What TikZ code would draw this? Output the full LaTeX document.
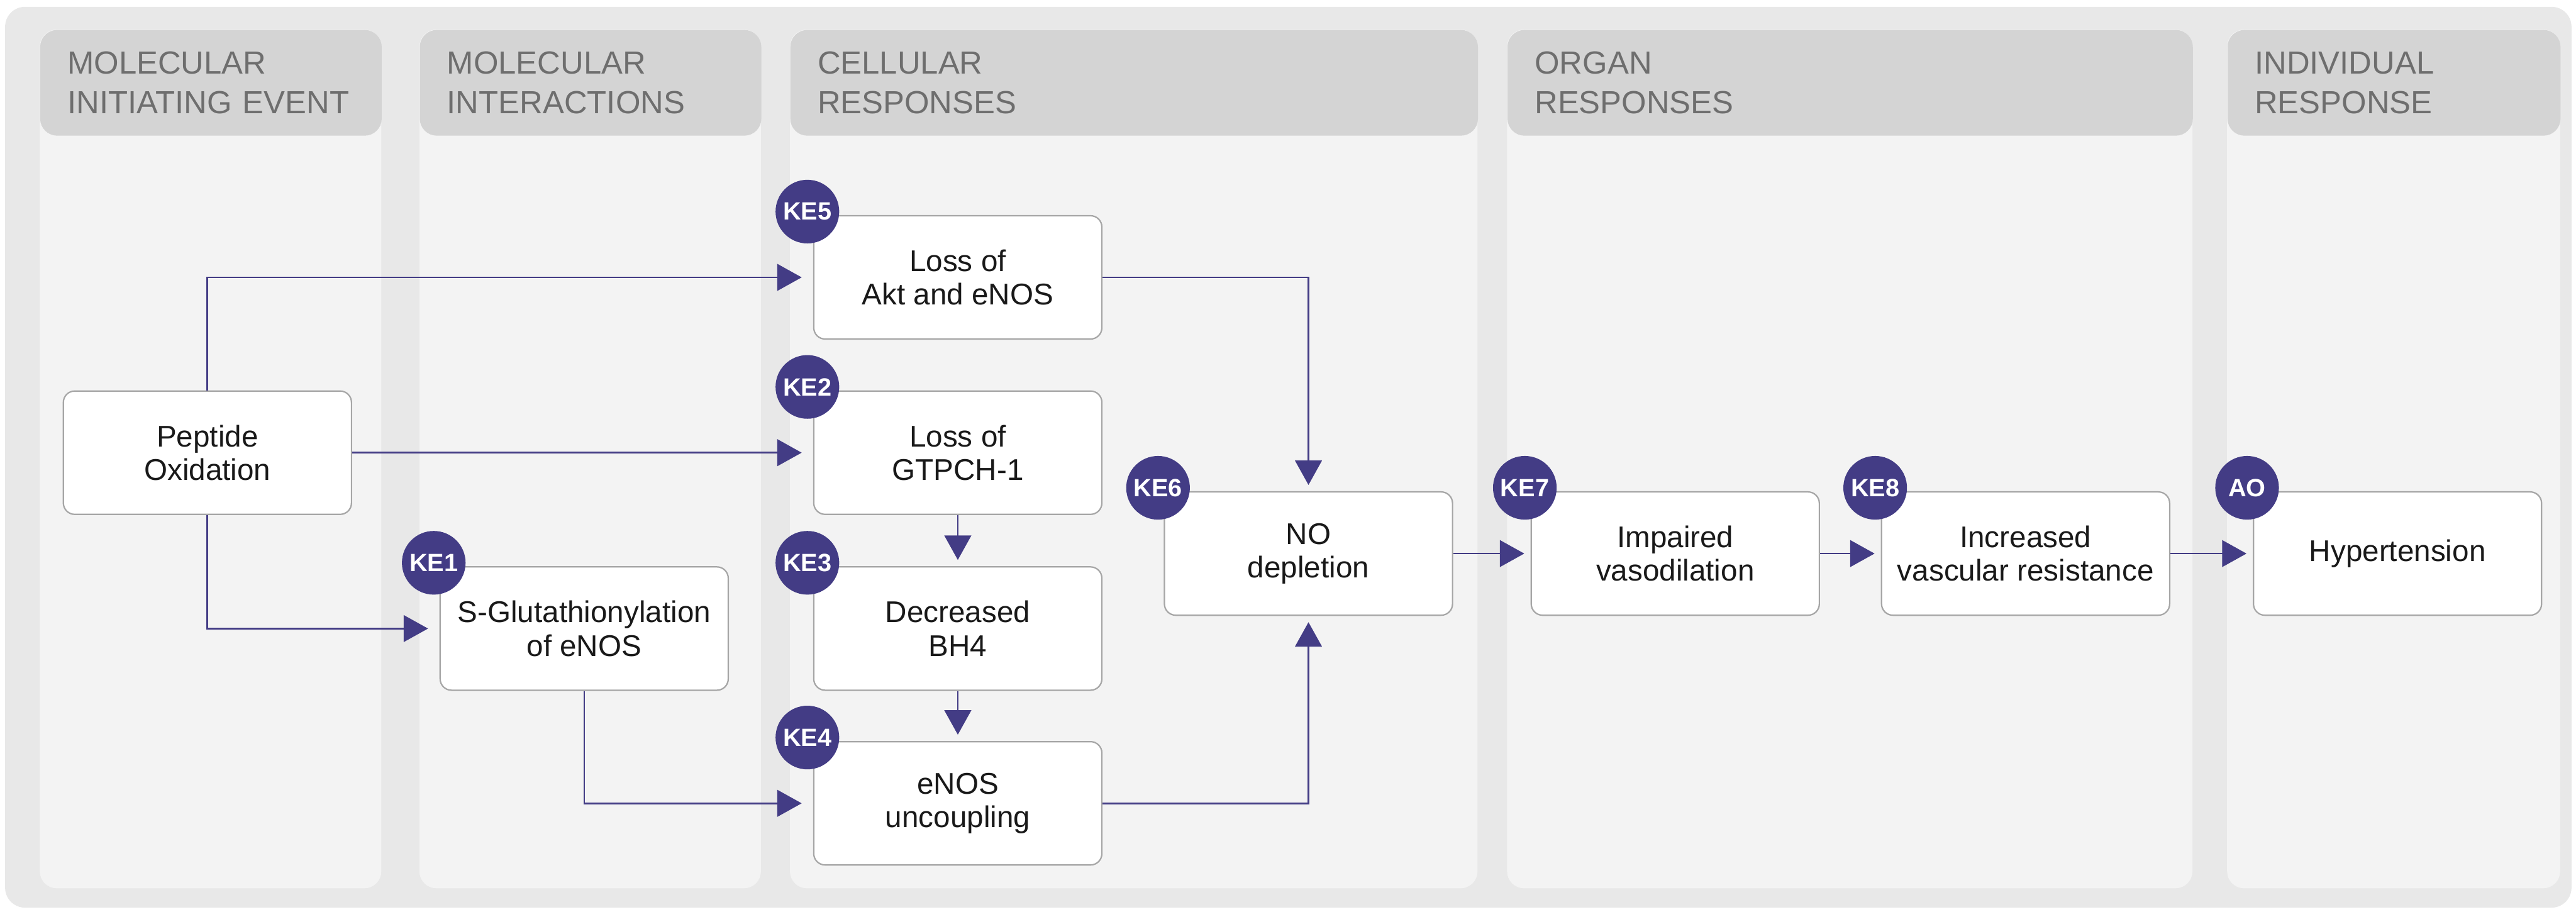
\documentclass[tikz,border=0pt]{standalone}
\usepackage{fontspec}
\setmainfont{Liberation Sans}
\usepackage{xcolor}
\usepackage{tikz}
\usetikzlibrary{arrows.meta,positioning,calc}

\definecolor{outergray}{HTML}{E8E8E8}
\definecolor{colgray}{HTML}{F3F3F3}
\definecolor{headgray}{HTML}{D4D4D4}
\definecolor{headtext}{HTML}{6E6E6E}
\definecolor{kepurple}{HTML}{433C85}
\definecolor{boxline}{HTML}{A6A6A6}

\begin{document}
\begin{tikzpicture}[
    node distance=0.89cm and 1.15cm,
    box/.style={draw=boxline, line width=0.7pt, fill=white, rounded corners=0.2cm, minimum width=5.07cm, minimum height=2.17cm, align=center, text=black!90, font=\fontsize{15}{16.8}\selectfont},
    badge/.style={circle, fill=kepurple, text=white, minimum size=1.12cm, inner sep=0pt, font=\bfseries\fontsize{12.5}{14}\selectfont},
    colhead/.style={fill=headgray, rounded corners=0.3cm, anchor=north west, minimum height=1.86cm, inner xsep=0.48cm, align=left, text=headtext, font=\fontsize{16}{20}\selectfont},
    colbody/.style={fill=colgray, rounded corners=0.3cm},
    arr/.style={-{Triangle[length=0.43cm, width=0.47cm]}, draw=kepurple, line width=0.03cm, shorten >=0.11cm},
  ]

  \useasboundingbox (0,0) rectangle (45.33,-16.04);
  \fill[outergray, rounded corners=0.35cm] (0.09,-0.12) rectangle (45.25,-15.97);

  % Columns
  \fill[colbody] (0.70,-0.52) rectangle (6.71,-15.63);
  \fill[colbody] (7.38,-0.52) rectangle (13.39,-15.63);
  \fill[colbody] (13.90,-0.52) rectangle (26.00,-15.63);
  \fill[colbody] (26.52,-0.52) rectangle (38.58,-15.63);
  \fill[colbody] (39.19,-0.52) rectangle (45.05,-15.63);

  \node[colhead, text width=5.05cm] (hd1) at (0.70,-0.52) {MOLECULAR\\INITIATING EVENT};
  \node[colhead, text width=5.05cm] (hd2) at (7.38,-0.52) {MOLECULAR\\INTERACTIONS};
  \node[colhead, text width=11.14cm] (hd3) at (13.90,-0.52) {CELLULAR\\RESPONSES};
  \node[colhead, text width=11.10cm] (hd4) at (26.52,-0.52) {ORGAN\\RESPONSES};
  \node[colhead, text width=4.90cm] (hd5) at (39.19,-0.52) {INDIVIDUAL\\RESPONSE};

  % Key event boxes
  \node[box] (pep) at (3.65,-7.965) {Peptide\\Oxidation};
  \node[box, right=8.11cm of pep] (ke2) {Loss of\\GTPCH-1};
  \node[box, above=of ke2] (ke5) {Loss of\\Akt and eNOS};
  \node[box, below=0.9cm of ke2] (ke3) {Decreased\\BH4};
  \node[box, below=0.88cm of ke3] (ke4) {eNOS\\uncoupling};
  \node[box, left=1.48cm of ke3] (ke1) {S-Glutathionylation\\of eNOS};

  \node[box] (ke6) at (23.025,-9.74) {NO\\depletion};
  \node[box, right=1.36cm of ke6] (ke7) {Impaired\\vasodilation};
  \node[box, right=1.07cm of ke7] (ke8) {Increased\\vascular resistance};
  \node[box, right=1.45cm of ke8] (ao) {Hypertension};

  % Arrows
  \draw[arr, shorten >=0.2cm] (pep.north) |- (ke5.west);
  \draw[arr, shorten >=0.2cm] (pep.east) -- (ke2.west);
  \draw[arr, shorten >=0.2cm] (pep.south) |- (ke1.west);
  \draw[arr, shorten >=0.2cm] (ke1.south) |- (ke4.west);
  \draw[arr] (ke2) -- (ke3);
  \draw[arr] (ke3) -- (ke4);
  \draw[arr] (ke5.east) -| (ke6.north);
  \draw[arr] (ke4.east) -| (ke6.south);
  \draw[arr] (ke6) -- (ke7);
  \draw[arr] (ke7) -- (ke8);
  \draw[arr] (ke8) -- (ao);

  % Badges
  \node[badge] (b1) at ([shift={(-0.1,0.06)}]ke1.north west) {KE1};
  \node[badge] (b2) at ([shift={(-0.1,0.06)}]ke2.north west) {KE2};
  \node[badge] (b3) at ([shift={(-0.1,0.06)}]ke3.north west) {KE3};
  \node[badge] (b4) at ([shift={(-0.1,0.06)}]ke4.north west) {KE4};
  \node[badge] (b5) at ([shift={(-0.1,0.06)}]ke5.north west) {KE5};
  \node[badge] (b6) at ([shift={(-0.1,0.06)}]ke6.north west) {KE6};
  \node[badge] (b7) at ([shift={(-0.1,0.06)}]ke7.north west) {KE7};
  \node[badge] (b8) at ([shift={(-0.1,0.06)}]ke8.north west) {KE8};
  \node[badge] (bao) at ([shift={(-0.1,0.06)}]ao.north west) {AO};

\end{tikzpicture}
\end{document}
